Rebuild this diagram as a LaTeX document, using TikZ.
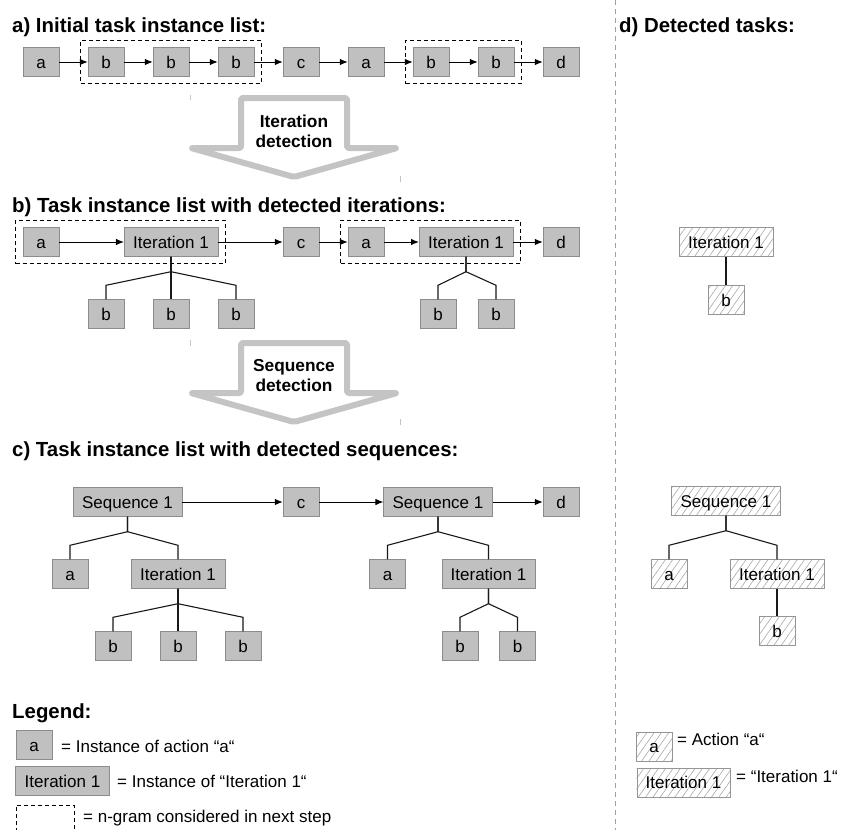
\documentclass[tikz,border=0pt]{standalone}
\usepackage{fontspec}
\setmainfont{Liberation Sans}
\usetikzlibrary{arrows.meta,fit,patterns.meta}

\definecolor{boxfill}{HTML}{C0C0C0}
\definecolor{boxline}{HTML}{8C8C8C}
\definecolor{bigarrowline}{HTML}{C4C4C4}
\definecolor{hatchline}{HTML}{A8A8A8}
\definecolor{hatchborder}{HTML}{959595}
\definecolor{sepline}{HTML}{A0A0A0}

\newcommand\headfont{\fontsize{20.4}{24}\selectfont\bfseries}
\newcommand\taskfont{\fontsize{17}{20}\selectfont}
\newcommand\detectfont{\fontsize{17.3}{20}\selectfont\bfseries}
\newcommand\subtask[2]{\draw[subtree] (#1.south) -- ++(0,15) -- ([yshift=14pt]#2.north) -- (#2.north);}

\tikzset{
  taskbox/.style={minimum width=36pt, minimum height=29pt, inner xsep=9pt, inner ysep=0pt, text height=12.5pt, text depth=0pt, font=\taskfont},
  task/.style={taskbox, draw=boxline, fill=boxfill},
  found task/.style={taskbox, draw=hatchborder, pattern={Lines[angle=55,distance=6pt,line width=.6pt]}, pattern color=hatchline},
  ngram/.style={draw, line width=.9pt, dash pattern=on 4pt off 3pt, inner sep=7pt},
  next/.style={-{Latex[length=8pt,width=6.5pt]}, line width=1pt},
  subtree/.style={line width=1.1pt, black!90},
  bigarrow/.style={draw=bigarrowline, fill=white, line width=6pt, rounded corners=2pt, line join=round},
  detect/.style={align=center, font=\detectfont},
  heading/.style={anchor=base west, inner sep=0pt, font=\headfont},
  legendtext/.style={anchor=base west, inner sep=0pt, font=\taskfont},
  separator/.style={draw=sepline, line width=1pt, dash pattern=on 5pt off 4pt},
  tick/.style={draw=bigarrowline, line width=.8pt},
}

\begin{document}
\begin{tikzpicture}[x=1pt,y=-1pt]
\useasboundingbox (0,0) rectangle (841,830);
\draw[separator] (615,0) -- (615,830);

\node[heading] (heada) at (12,32) {a) Initial task instance list:};
\node[task] (ia1) at (41,62) {a};
\node[task] (ib1) at (106,62) {b};
\node[task] (ib2) at (171,62) {b};
\node[task] (ib3) at (236,62) {b};
\node[task] (ic) at (301,62) {c};
\node[task] (ia2) at (366,62) {a};
\node[task] (ib4) at (431,62) {b};
\node[task] (ib5) at (496,62) {b};
\node[task] (id) at (561,62) {d};
\foreach \from/\to in {ia1/ib1,ib1/ib2,ib2/ib3,ib3/ic,ic/ia2,ia2/ib4,ib4/ib5,ib5/id}
  \draw[next] (\from) -- (\to);
\node[ngram, fit=(ib1)(ib3)] (igram1) {};
\node[ngram, fit=(ib4)(ib5)] (igram2) {};
\node[heading] (headd) at (619,32) {d) Detected tasks:};

\draw[bigarrow] (241,98) -- (347,98) -- (347,148) -- (397,148) -- (294,177) -- (191,148) -- (241,148) -- cycle;
\node[detect] (itdetect) at (294,131) {Iteration\\detection};
\draw[tick] (190,95) -- (190,100);
\draw[tick] (400,176) -- (400,182);

\node[heading] (headb) at (12,212) {b) Task instance list with detected iterations:};
\node[task] (ta1) at (41,242) {a};
\node[task] (titer1) at (171,242) {Iteration 1};
\node[task] (tc) at (301,242) {c};
\node[task] (ta2) at (366,242) {a};
\node[task] (titer2) at (466,242) {Iteration 1};
\node[task] (td) at (561,242) {d};
\foreach \from/\to in {ta1/titer1,titer1/tc,tc/ta2,ta2/titer2,titer2/td}
  \draw[next] (\from) -- (\to);
\node[ngram, fit=(ta1)(titer1)] (tgram1) {};
\node[ngram, fit=(ta2)(titer2)] (tgram2) {};
\node[task] (tb1) at (106,314) {b};
\node[task] (tb2) at (171,314) {b};
\node[task] (tb3) at (236,314) {b};
\node[task] (tb4) at (438,314) {b};
\node[task] (tb5) at (496,314) {b};
\subtask{titer1}{tb1}
\subtask{titer1}{tb2}
\subtask{titer1}{tb3}
\subtask{titer2}{tb4}
\subtask{titer2}{tb5}

\node[found task] (diter1) at (726,242) {Iteration 1};
\node[found task] (db1) at (726,300) {b};
\subtask{diter1}{db1}

\draw[bigarrow] (241,343) -- (347,343) -- (347,393) -- (397,393) -- (294,422) -- (191,393) -- (241,393) -- cycle;
\node[detect] (sqdetect) at (294,376) {Sequence\\detection};
\draw[tick] (190,340) -- (190,346);
\draw[tick] (400,419) -- (400,425);

\node[heading] (headc) at (12,456) {c) Task instance list with detected sequences:};
\node[task] (sseq1) at (127.5,502) {Sequence 1};
\node[task] (sc) at (301,502) {c};
\node[task] (sseq2) at (438,502) {Sequence 1};
\node[task] (sd) at (561,502) {d};
\foreach \from/\to in {sseq1/sc,sc/sseq2,sseq2/sd}
  \draw[next] (\from) -- (\to);
\node[task] (sa1) at (70,574) {a};
\node[task] (siter1) at (178,574) {Iteration 1};
\node[task] (sb1) at (113,646) {b};
\node[task] (sb2) at (178,646) {b};
\node[task] (sb3) at (243,646) {b};
\node[task] (sa2) at (387.5,574) {a};
\node[task] (siter2) at (488.5,574) {Iteration 1};
\node[task] (sb4) at (460,646) {b};
\node[task] (sb5) at (517.5,646) {b};
\subtask{sseq1}{sa1}
\subtask{sseq1}{siter1}
\subtask{siter1}{sb1}
\subtask{siter1}{sb2}
\subtask{siter1}{sb3}
\subtask{sseq2}{sa2}
\subtask{sseq2}{siter2}
\subtask{siter2}{sb4}
\subtask{siter2}{sb5}

\node[found task] (dseq) at (726,501) {Sequence 1};
\node[found task] (da) at (669,574) {a};
\node[found task] (diter2) at (777,574) {Iteration 1};
\node[found task] (db2) at (777,631) {b};
\subtask{dseq}{da}
\subtask{dseq}{diter2}
\subtask{diter2}{db2}

\node[heading] (headlegend) at (12,718) {Legend:};
\node[task] (lega) at (34,745) {a};
\node[legendtext] (legatext) at (61,752) {= Instance of action “a“};
\node[task] (legiter) at (62.5,781) {Iteration 1};
\node[legendtext] (legitertext) at (117,787) {= Instance of “Iteration 1“};
\draw[ngram] (16,832) -- (16,805) -- (74,805) -- (74,832);
\node[legendtext] (leggramtext) at (83,822) {= n-gram considered in next step};

\node[found task] (lfounda) at (654,746.5) {a};
\node[legendtext] (lfoundatext) at (677,745) {= Action “a“};
\node[found task] (lfounditer) at (683.5,782.5) {Iteration 1};
\node[legendtext] (lfounditertext) at (736,782) {= “Iteration 1“};
\end{tikzpicture}
\end{document}
